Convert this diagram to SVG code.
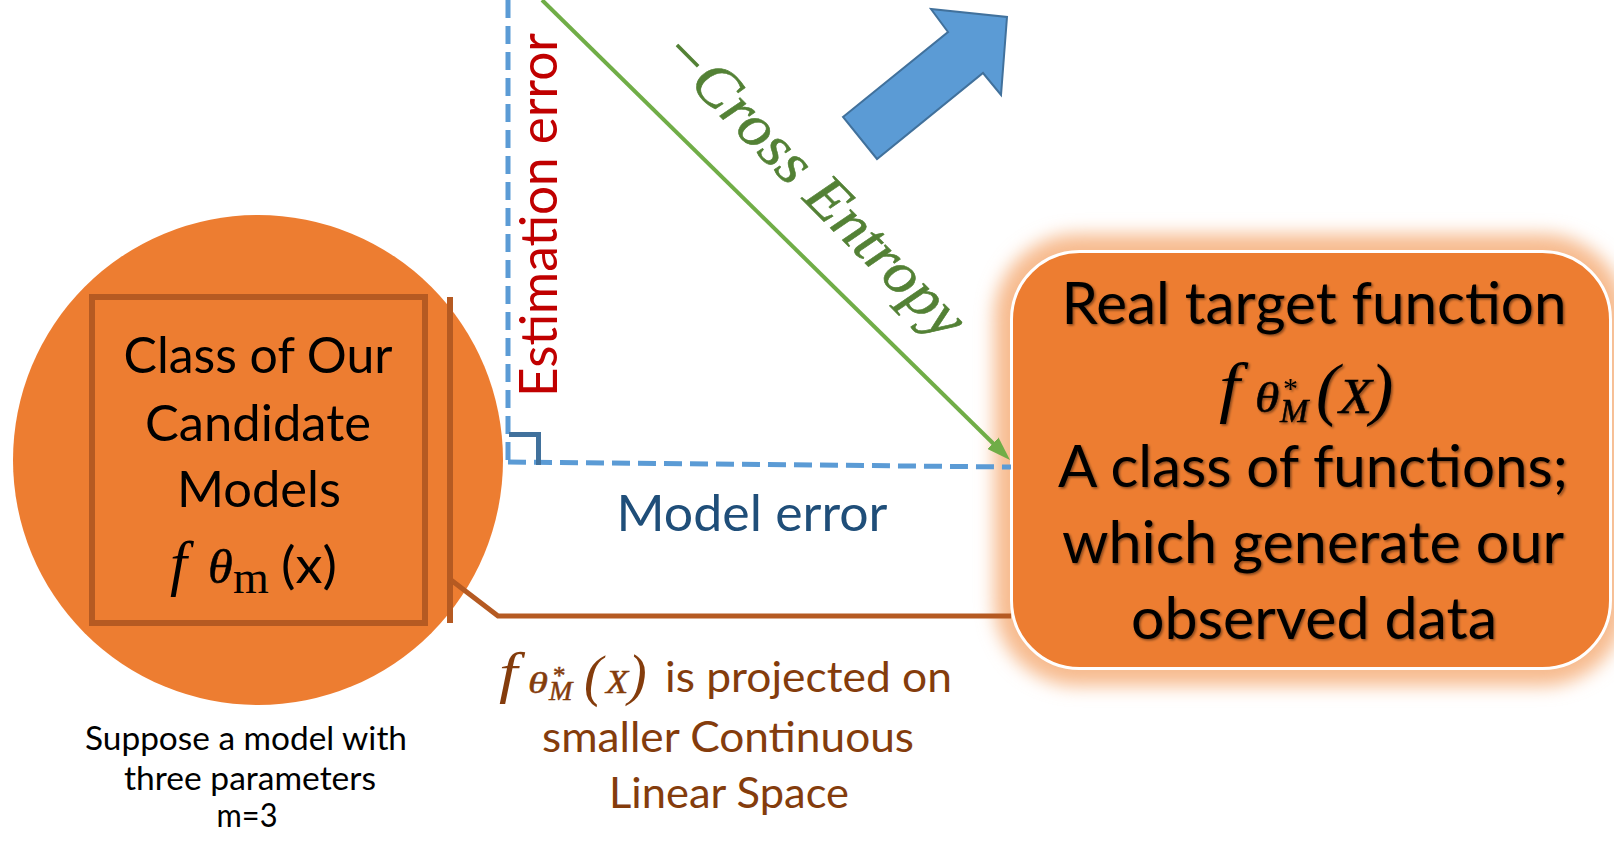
<svg xmlns="http://www.w3.org/2000/svg" width="1614" height="841" viewBox="0 0 1614 841">
  <style>
    .sans { font-family: Lato, "Open Sans", "Liberation Sans", sans-serif; }
    .mi { font-family: "Liberation Serif", "DejaVu Serif", serif; font-style: italic; }
    .mr { font-family: "Liberation Serif", "DejaVu Serif", serif; }
    .mid { text-anchor: middle; }
    .orange { fill: #ED7D31; }
    .frame { fill: none; stroke: #B55A22; stroke-width: 6; }
    .dash { fill: none; stroke: #5B9BD5; stroke-width: 5; stroke-dasharray: 18 8; }
    .proj { fill: none; stroke: #B55A22; stroke-width: 5; }
    .boxtext { fill: #000; font-size: 58px; filter: url(#tshadow); }
    .circtext { fill: #000; font-size: 50px; }
    .brown { fill: #843C0C; }
    .heavy-k { stroke: #000; stroke-width: 0.5; }
    .heavy-b { stroke: #843C0C; stroke-width: 0.5; }
  </style>
  <defs>
    <filter id="glow" x="-20%" y="-20%" width="140%" height="140%">
      <feGaussianBlur stdDeviation="9"/>
    </filter>
    <filter id="tshadow" x="-5%" y="-20%" width="110%" height="140%">
      <feDropShadow dx="1.5" dy="1.5" stdDeviation="1.2" flood-color="#000" flood-opacity="0.45"/>
    </filter>
    <marker id="greenHead" viewBox="0 0 12 8" refX="4" refY="4" markerWidth="6" markerHeight="4" orient="auto" markerUnits="strokeWidth">
      <path d="M0,0 L12,4 L0,8 z" fill="#70AD47"/>
    </marker>
  </defs>

  <rect width="1614" height="841" fill="#fff"/>

  <!-- Candidate model class: circle with framed label -->
  <g id="candidate-models">
    <circle class="orange" cx="258" cy="460" r="245"/>
    <rect class="frame" x="92" y="297" width="333" height="326"/>
    <text class="sans circtext mid" x="258" y="373" textLength="269" lengthAdjust="spacingAndGlyphs">Class of Our</text>
    <text class="sans circtext mid" x="258" y="441" textLength="226" lengthAdjust="spacingAndGlyphs">Candidate</text>
    <text class="sans circtext mid" x="259" y="507" textLength="164" lengthAdjust="spacingAndGlyphs">Models</text>
    <g fill="#000">
      <text class="mi" x="170" y="584" font-size="61">f</text>
      <text class="mi heavy-k" transform="translate(208,583) scale(1.05,1)" font-size="48">θ</text>
      <text class="mr" x="233" y="593" font-size="46">m</text>
    </g>
    <text class="sans" x="281" y="583" font-size="50" textLength="56" lengthAdjust="spacingAndGlyphs">(x)</text>
  </g>

  <!-- Caption under the circle -->
  <g id="caption-parameters" class="sans" font-size="32" fill="#000">
    <text class="mid" x="246" y="750" textLength="322" lengthAdjust="spacingAndGlyphs">Suppose a model with</text>
    <text class="mid" x="250" y="790" textLength="252" lengthAdjust="spacingAndGlyphs">three parameters</text>
    <text class="mid" x="247" y="827" textLength="61" lengthAdjust="spacingAndGlyphs">m=3</text>
  </g>

  <!-- Real target function box with soft glow -->
  <g id="target-function">
    <rect x="994" y="234" width="632" height="452" rx="84" fill="#F7BB8F" filter="url(#glow)"/>
    <rect x="1011.5" y="251.5" width="599" height="417" rx="68" fill="#ED7D31" stroke="#fff" stroke-width="3"/>
    <text class="sans boxtext mid" x="1314" y="324" textLength="505" lengthAdjust="spacingAndGlyphs">Real target function</text>
    <g fill="#000" filter="url(#tshadow)">
      <text class="mi" transform="translate(1219,410) scale(1.1,1)" font-size="68">f</text>
      <text class="mi heavy-k" transform="translate(1255,412) scale(1.15,1)" font-size="43">θ</text>
      <text class="mr" x="1283" y="398" font-size="30">*</text>
      <text class="mi heavy-k" x="1280" y="422" font-size="34">M</text>
      <text class="mi" x="1316" y="412" font-size="70">(</text>
      <text class="mi heavy-k" transform="translate(1339,413) scale(1.08,1)" font-size="50">X</text>
      <text class="mi" x="1370" y="412" font-size="70">)</text>
    </g>
    <text class="sans boxtext mid" x="1313" y="487" textLength="510" lengthAdjust="spacingAndGlyphs">A class of functions;</text>
    <text class="sans boxtext mid" x="1313" y="563" textLength="502" lengthAdjust="spacingAndGlyphs">which generate our</text>
    <text class="sans boxtext mid" x="1314" y="639" textLength="366" lengthAdjust="spacingAndGlyphs">observed data</text>
  </g>

  <!-- Direction arrow -->
  <g id="direction-arrow">
    <polygon points="843,117 948,32 931,9 1007,17 1001,95 983,73 877,159" fill="#5B9BD5" stroke="#41719C" stroke-width="2" stroke-linejoin="miter"/>
  </g>

  <!-- Connectors: error legs, cross-entropy hypotenuse, projection bracket -->
  <g id="connectors">
    <path class="dash" d="M508,0 V462"/>
    <path class="dash" d="M508,462 L1011,467"/>
    <path d="M509,434.5 H538.5 V465" fill="none" stroke="#41719C" stroke-width="5"/>
    <path d="M542,0 L998.6,448.8" fill="none" stroke="#70AD47" stroke-width="4" marker-end="url(#greenHead)"/>
    <path d="M450,297 V623" fill="none" stroke="#B55A22" stroke-width="6"/>
    <path class="proj" d="M451,580 L498,616 H1011"/>
  </g>

  <!-- Connector labels -->
  <g id="label-estimation-error">
    <text class="sans mid" transform="translate(557,215) rotate(-90)" font-size="52" fill="#C00000" textLength="364" lengthAdjust="spacingAndGlyphs">Estimation error</text>
  </g>
  <g id="label-model-error">
    <text class="sans mid" x="752" y="531" font-size="50" fill="#1F4E79" textLength="271" lengthAdjust="spacingAndGlyphs">Model error</text>
  </g>
  <g id="label-cross-entropy">
    <text class="mi" transform="translate(658,54) rotate(45.3)" font-size="60" fill="#538135" stroke="#538135" stroke-width="0.6" textLength="405" lengthAdjust="spacingAndGlyphs">−Cross Entropy</text>
  </g>
  <g id="label-projection" class="brown">
    <text class="mi" transform="translate(499,692) scale(1.15,1)" font-size="58">f</text>
    <g class="heavy-b">
      <text class="mi" transform="translate(528,693) scale(1.35,1)" font-size="30">θ</text>
      <text class="mr" x="553" y="684" font-size="25">*</text>
      <text class="mi" x="549" y="700" font-size="28">M</text>
      <text class="mi" transform="translate(606,693) scale(1.1,1)" font-size="33">X</text>
    </g>
    <text class="mi" x="584" y="695" font-size="56">(</text>
    <text class="mi" x="628" y="694" font-size="56">)</text>
    <text class="sans" x="665" y="692" font-size="43" textLength="287" lengthAdjust="spacingAndGlyphs">is projected on</text>
    <text class="sans mid" x="728" y="752" font-size="43" textLength="372" lengthAdjust="spacingAndGlyphs">smaller Continuous</text>
    <text class="sans mid" x="729" y="808" font-size="43" textLength="240" lengthAdjust="spacingAndGlyphs">Linear Space</text>
  </g>
</svg>
